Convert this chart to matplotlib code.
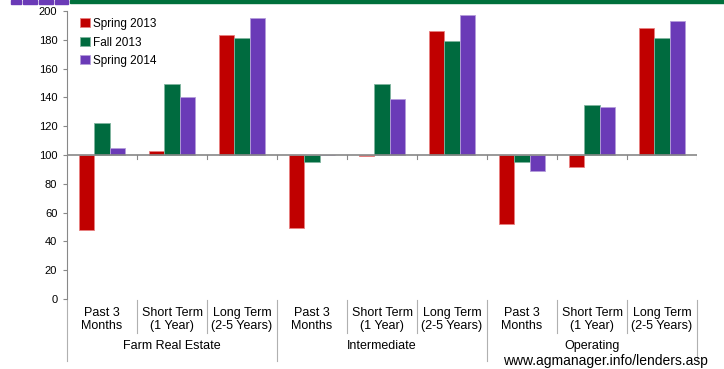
import numpy as np
import matplotlib
matplotlib.use('Agg')
import matplotlib.pyplot as plt
from matplotlib.patches import Rectangle

plt.rcParams['font.family'] = ['Liberation Sans', 'DejaVu Sans']

# data
groups = ['Farm Real Estate', 'Intermediate', 'Operating']
periods = ['Past 3\nMonths', 'Short Term\n(1 Year)', 'Long Term\n(2-5 Years)']
series = ['Spring 2013', 'Fall 2013', 'Spring 2014']
spring_2013 = [48, 103, 183, 49, 99, 186, 52, 92, 188]
fall_2013 = [122, 149, 181, 95, 149, 179, 95, 135, 181]
spring_2014 = [105, 140, 195, 100, 139, 197, 89, 133, 193]
colors = ['#C00000', '#006B3F', '#6A3AB7']
edges = ['#E88080', '#7FB59F', '#B49CDB']

fig = plt.figure(figsize=(7.24, 3.69), dpi=100)
ax = fig.add_axes([67/724, 1-299/369, 630/724, 288/369])

# header strip
fig.patches.append(Rectangle((70/724, 1-3/369), 1, 3/369, transform=fig.transFigure,
                             color='#00703C', zorder=5))
for x0, x1 in [(11, 21), (23, 37), (39, 53), (55, 68)]:
    fig.patches.append(Rectangle((x0/724, 1-4/369), (x1-x0)/724, 4/369,
                                 transform=fig.transFigure, color='#6A3AB7', zorder=5))

n = len(spring_2013)
x = np.arange(n) + 0.5
w = 0.223
for k, vals in enumerate([spring_2013, fall_2013, spring_2014]):
    vals = np.array(vals)
    ax.bar(x + (k - 1) * w, vals - 100, bottom=100, width=w, color=colors[k],
           edgecolor=edges[k], linewidth=0.6, label=series[k], zorder=3)

ax.set_xlim(0, n)
ax.set_ylim(0, 200)
ax.set_yticks(range(0, 201, 20))
ax.tick_params(axis='y', labelsize=8, length=3, color='#888888', pad=4)
ax.set_xticks([])
for s in ['top', 'right', 'bottom']:
    ax.spines[s].set_visible(False)
ax.spines['left'].set_color('#888888')

# axis line at 100 with boundary ticks
ax.axhline(100, color='#888888', lw=1.2, zorder=4)
for b in range(1, n + 1):
    ax.plot([b, b], [100, 97.5], color='#888888', lw=0.8, zorder=4)

# category labels below
tr = ax.get_xaxis_transform()
for i in range(n):
    ax.text(x[i], -0.072, periods[i % 3], transform=tr, ha='center', va='center',
            fontsize=9, linespacing=1.15)
for b in range(n + 1):
    bottom = -0.215 if b % 3 == 0 else -0.118
    ax.plot([b, b], [-0.002, bottom], transform=tr, color='#B0B0B0', lw=0.8,
            clip_on=False)
for g in range(3):
    ax.text(g * 3 + 1.5, -0.163, groups[g], transform=tr, ha='center', va='center',
            fontsize=9)

ax.legend(loc='upper left', bbox_to_anchor=(0.01, 1.0), frameon=False, fontsize=8.5,
          handlelength=0.8, handleheight=0.8, handletextpad=0.3, labelspacing=0.55,
          borderaxespad=0.2)

fig.text(708/724, 1-361/369, 'www.agmanager.info/lenders.asp', ha='right', va='center',
         fontsize=10)

fig.savefig('out.png', dpi=100)
